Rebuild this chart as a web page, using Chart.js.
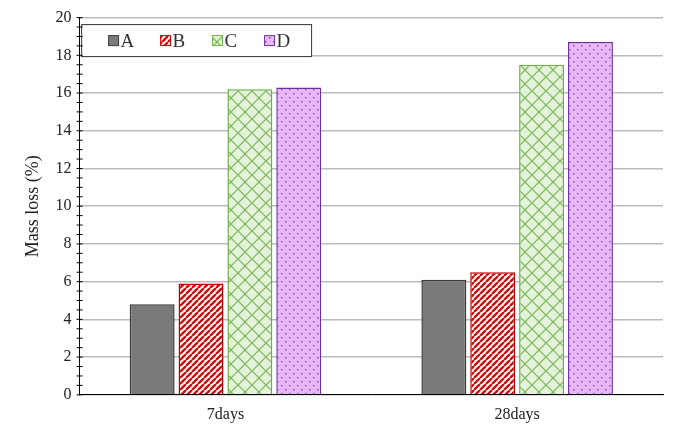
<!DOCTYPE html>
<html><head><script src="https://cdn.jsdelivr.net/npm/chart.js"></script>
<style>body{margin:0;background:#fff}#wrap{width:673px;height:436px}</style></head>
<body><div id="wrap"><canvas id="c"></canvas></div>
<script>
const categories = ['7days', '28days'];
const seriesNames = ['A', 'B', 'C', 'D'];
const valuesA = [4.8, 6.1];
const valuesB = [5.9, 6.5];
const valuesC = [16.2, 17.5];
const valuesD = [16.3, 18.7];

function pat(size, bg, draw) {
  const p = document.createElement('canvas');
  p.width = size; p.height = size;
  const x = p.getContext('2d');
  x.fillStyle = bg; x.fillRect(0, 0, size, size);
  draw(x);
  return x.createPattern(p, 'repeat');
}
const fillA = '#7a7a7a';
const fillB = pat(6, '#ffffff', x => {
  x.strokeStyle = '#d01010'; x.lineWidth = 2.4;
  x.beginPath();
  for (let k = -6; k <= 12; k += 6) { x.moveTo(k, 6); x.lineTo(k + 6, 0); }
  x.stroke();
});
const fillC = pat(14, '#e4f2dc', x => {
  x.strokeStyle = '#7cb85a'; x.lineWidth = 1.2;
  x.beginPath();
  x.moveTo(0, 7); x.lineTo(7, 0); x.lineTo(14, 7); x.lineTo(7, 14); x.closePath();
  x.stroke();
});
const fillD = pat(8, '#eab8f8', x => {
  x.fillStyle = '#8a4aa8';
  x.fillRect(1, 1, 1.5, 1.5); x.fillRect(5, 5, 1.5, 1.5);
});
const fills = [fillA, fillB, fillC, fillD];
const borders = ['#3a3a3a', '#c00000', '#70ad47', '#7030a0'];
const data = [valuesA, valuesB, valuesC, valuesD];

const legendBox = {
  id: 'legendBox',
  afterDraw(chart) {
    const ctx = chart.ctx;
    const a = chart.chartArea;
    const x0 = a.left + 2, y0 = a.top + 7, w = 230, h = 32;
    ctx.save();
    ctx.fillStyle = '#fff'; ctx.fillRect(x0, y0, w, h);
    ctx.strokeStyle = '#333'; ctx.lineWidth = 1; ctx.strokeRect(x0, y0, w, h);
    ctx.font = '19px "Liberation Serif"'; ctx.textBaseline = 'middle';
    seriesNames.forEach((n, i) => {
      const x = x0 + 27 + i * 52, y = y0 + h / 2;
      ctx.fillStyle = fills[i]; ctx.fillRect(x, y - 5, 10, 10);
      ctx.strokeStyle = borders[i]; ctx.strokeRect(x, y - 5, 10, 10);
      ctx.fillStyle = '#333'; ctx.fillText(n, x + 12, y + 1);
    });
    const ys = chart.scales.y;
    ctx.strokeStyle = '#000';
    for (let v = 0; v <= 20.001; v += 0.5) {
      const y = ys.getPixelForValue(v);
      ctx.beginPath(); ctx.moveTo(a.left - 3, y); ctx.lineTo(a.left + 3, y); ctx.stroke();
    }
    ctx.restore();
  }
};

new Chart(document.getElementById('c'), {
  type: 'bar',
  data: {
    labels: categories,
    datasets: seriesNames.map((n, i) => ({
      label: n, data: data[i], backgroundColor: fills[i],
      borderColor: borders[i], borderWidth: 1.5
    }))
  },
  options: {
    animation: false, responsive: true, maintainAspectRatio: false,
    layout: { padding: { top: 12, right: 10, left: 18, bottom: 2 } },
    categoryPercentage: 0.67, barPercentage: 0.92,
    plugins: { legend: { display: false }, tooltip: { enabled: false } },
    scales: {
      x: {
        grid: { display: false, drawTicks: false },
        border: { color: '#000' },
        ticks: { color: '#222', padding: 10, font: { family: 'Liberation Serif', size: 16 } }
      },
      y: {
        min: 0, max: 20,
        ticks: { stepSize: 2, color: '#222', padding: 8, font: { family: 'Liberation Serif', size: 16 } },
        grid: { color: '#bbb', lineWidth: 1.5, drawTicks: false },
        border: { color: '#000' },
        title: { display: true, text: 'Mass loss (%)', color: '#222', font: { family: 'Liberation Serif', size: 18 } }
      }
    }
  },
  plugins: [legendBox]
});
</script></body></html>
